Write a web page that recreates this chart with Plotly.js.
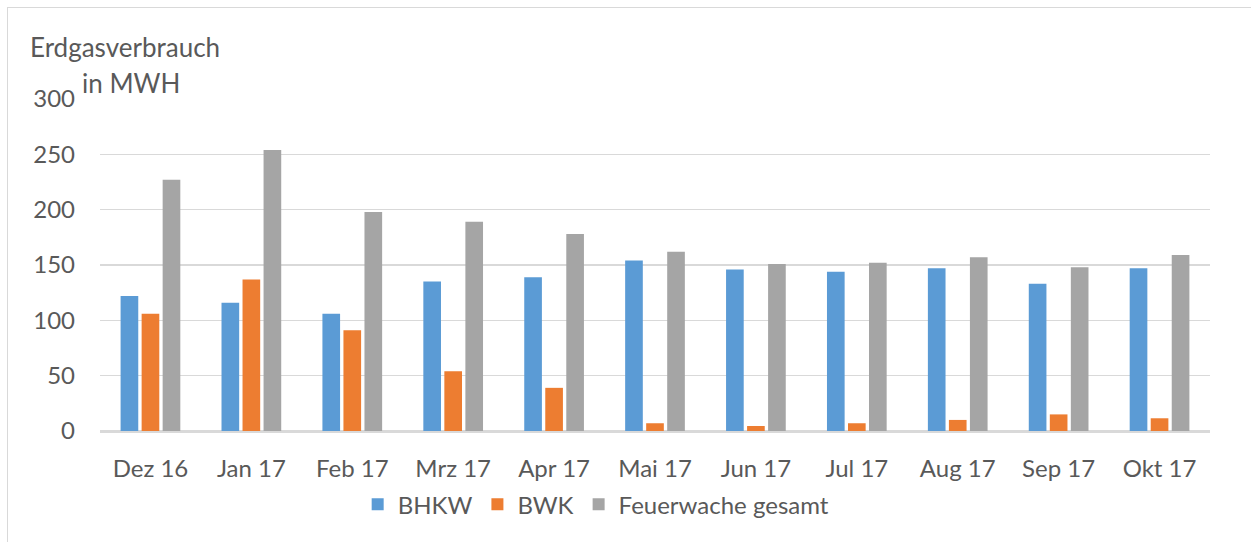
<!DOCTYPE html>
<html>
<head>
<meta charset="utf-8">
<script src="https://cdn.plot.ly/plotly-3.0.1.min.js"></script>
<style>
  html, body { margin: 0; padding: 0; background: #fff; }
  #chart { width: 1251px; height: 542px; position: relative; }
  #frame { position: absolute; left: 7px; top: 7px; width: 1400px; height: 700px;
           border-left: 1.5px solid #d9d9d9; border-top: 1.5px solid #d9d9d9;
           pointer-events: none; }
  #wrap { position: relative; width: 1251px; height: 542px; overflow: hidden; }
</style>
</head>
<body>
<div id="wrap">
  <div id="chart"></div>
  <div id="frame"></div>
</div>
<script>
const categories = ["Dez 16", "Jan 17", "Feb 17", "Mrz 17", "Apr 17", "Mai 17", "Jun 17", "Jul 17", "Aug 17", "Sep 17", "Okt 17"];
const bhkw = [122, 116, 106, 135, 139, 154, 146, 144, 147, 133, 147];
const bwk = [106, 137, 91, 54, 39, 7, 4.5, 7, 10, 15, 11.5];
const gesamt = [227, 254, 198, 189, 178, 162, 151, 152, 157, 148, 159];
const seriesNames = ["BHKW", "BWK", "Feuerwache gesamt"];
const yTicks = [0, 50, 100, 150, 200, 250, 300];

const font = "Lato, 'Open Sans', sans-serif";
const txt = "#595959";

const traces = [
  { type: "bar", name: seriesNames[0], x: categories, y: bhkw, marker: { color: "#5B9BD5" } },
  { type: "bar", name: seriesNames[1], x: categories, y: bwk, marker: { color: "#ED7D31" } },
  { type: "bar", name: seriesNames[2], x: categories, y: gesamt, marker: { color: "#A5A5A5" } }
];

const layout = {
  width: 1251, height: 542,
  margin: { l: 100, r: 41, t: 99, b: 111 },
  paper_bgcolor: "#fff", plot_bgcolor: "#fff",
  font: { family: font, size: 24, color: txt },
  barmode: "group",
  bargap: 0.375,
  bargroupgap: 0.16,
  showlegend: true,
  legend: {
    orientation: "h", x: 0.447, xanchor: "center", y: -0.222, yanchor: "middle",
    font: { family: font, size: 24, color: txt }, itemclick: false
  },
  xaxis: {
    type: "category", range: [-0.5, 10.5], fixedrange: true,
    showline: true, linecolor: "#d9d9d9", linewidth: 1.5,
    showgrid: false, ticks: "", ticklabelstandoff: 16,
    tickfont: { family: font, size: 24, color: txt }
  },
  yaxis: {
    range: [0, 300], tickvals: yTicks, fixedrange: true,
    showgrid: true, gridcolor: "#d9d9d9", gridwidth: 1.5,
    zeroline: true, zerolinecolor: "#d9d9d9", zerolinewidth: 1.5,
    showline: false, ticks: "", ticklabelstandoff: 24,
    tickfont: { family: font, size: 24, color: txt }
  },
  annotations: [
    { text: "Erdgasverbrauch", xref: "paper", yref: "paper",
      x: (28 - 100) / 1110, y: (431 - 47) / 332, xanchor: "left", yanchor: "middle",
      showarrow: false, font: { family: font, size: 26, color: txt } },
    { text: "in MWH", xref: "paper", yref: "paper",
      x: (80 - 100) / 1110, y: (431 - 83) / 332, xanchor: "left", yanchor: "middle",
      showarrow: false, font: { family: font, size: 26, color: txt } }
  ]
};

Plotly.newPlot("chart", traces, layout, { displayModeBar: false, staticPlot: true });
</script>
</body>
</html>
